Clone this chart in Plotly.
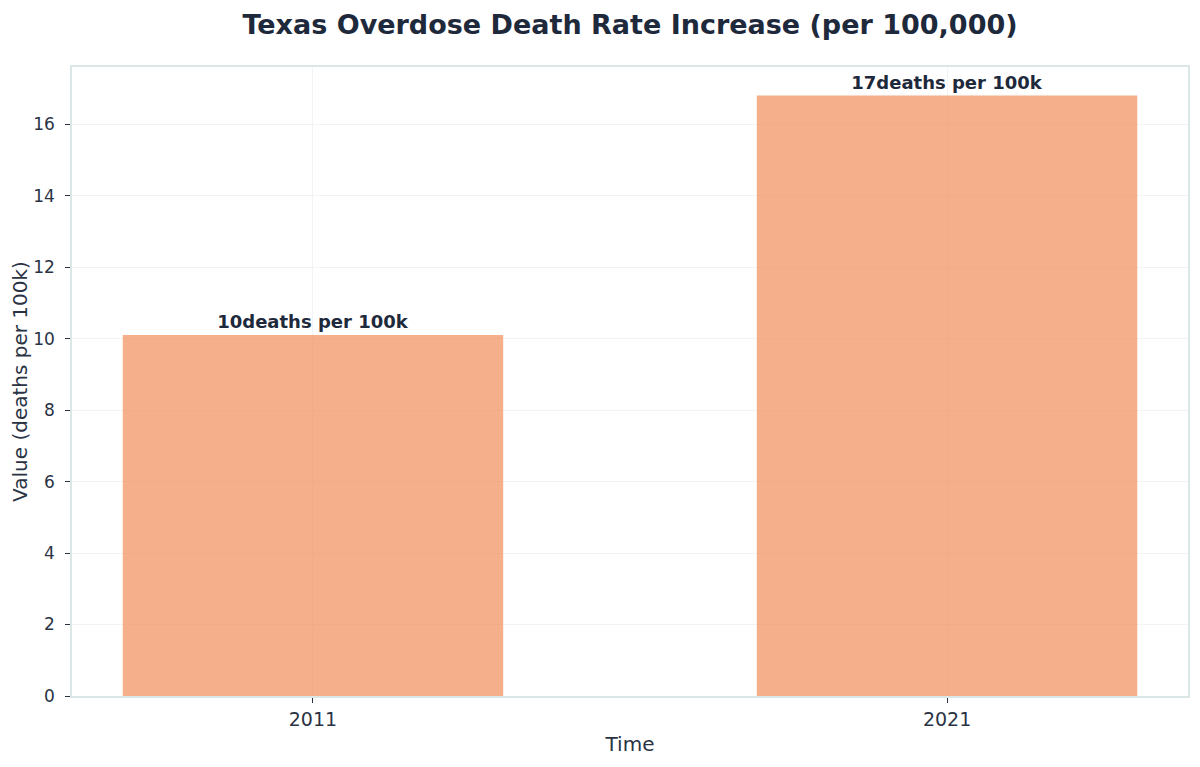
import plotly.graph_objects as go

years = ["2011", "2021"]
rates = [10.1, 16.8]
title_text = "Texas Overdose Death Rate Increase (per 100,000)"

font_color = "#2a3344"

fig = go.Figure()
fig.add_trace(go.Bar(
    x = years,
    y = rates,
    width = 0.6,
    marker = dict(color = "#F39B6D", opacity = 0.8, line = dict(width = 0)),
    texttemplate = "%{y:.0f}deaths per 100k",
    textposition = "outside",
    cliponaxis = False,
    textfont = dict(family = "DejaVu Sans", size = 18, color = "#1e293b", weight = "bold"),
))

fig.update_layout(
    width = 1200,
    height = 767,
    margin = dict(l = 64, r = 20, t = 59, b = 79),
    paper_bgcolor = "white",
    plot_bgcolor = "white",
    font = dict(family = "DejaVu Sans", color = font_color, size = 16),
    title = dict(text = "<b>" + title_text + "</b>", x = 0.5, xref = "paper", xanchor = "center",
                 y = 0.979, yanchor = "middle", font = dict(size = 27, color = "#1e293b")),
    showlegend = False,
)
fig.update_xaxes(
    type = "category",
    range = [-0.38, 1.38],
    automargin = False,
    title = dict(text = "Time", font = dict(size = 20), standoff = 8),
    tickfont = dict(size = 19),
    ticks = "outside", ticklen = 5, tickcolor = font_color,
    showgrid = True, gridcolor = "rgba(230,236,240,0.6)",
    showline = True, linecolor = "#dbe7e7", mirror = True, linewidth = 1.5,
)
fig.update_yaxes(
    range = [0, 17.6],
    dtick = 2,
    automargin = False,
    title = dict(text = "Value (deaths per 100k)", font = dict(size = 20), standoff = 4),
    tickfont = dict(size = 17),
    ticks = "outside", ticklen = 5, tickcolor = font_color,
    ticklabelstandoff = 7,
    showgrid = True, gridcolor = "rgba(230,236,240,0.6)",
    zeroline = False,
    showline = True, linecolor = "#dbe7e7", mirror = True, linewidth = 1.5,
)

fig.write_html("out.html")
